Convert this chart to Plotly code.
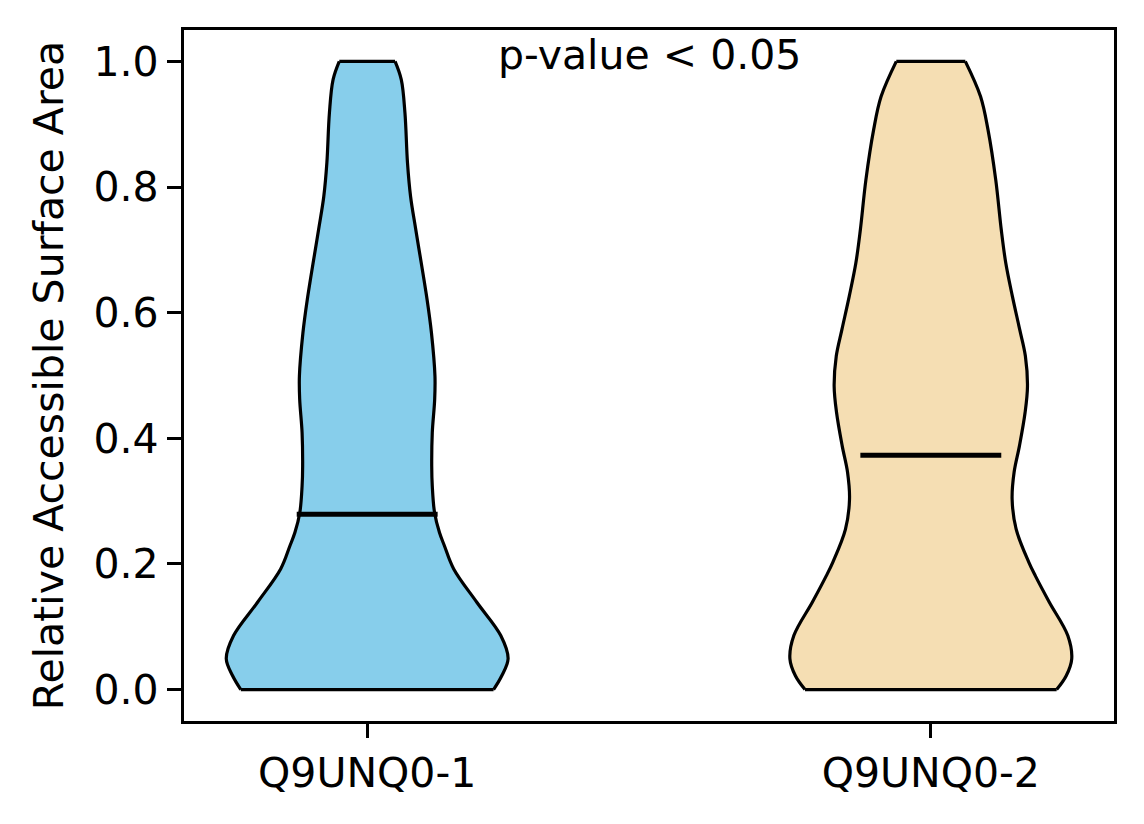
# Importing libraries
import plotly.graph_objects as go

# Violin categories and colours
labels: list[str] = ["Q9UNQ0-1", "Q9UNQ0-2"]
positions: list[int] = [1, 2]
colors: list[str] = ["#87CEEB", "#F5DEB3"]

# Density profile of each violin (y level -> relative density, max = 1)
rsa_levels_1: list[float] = [0.0, 0.022, 0.049, 0.086, 0.139, 0.192, 0.229, 0.250, 0.282,
                             0.324, 0.356, 0.409, 0.462, 0.499, 0.568, 0.621, 0.732, 0.785,
                             0.839, 0.918, 0.971, 1.0]
density_1: list[float] = [0.897, 0.955, 1.0, 0.948, 0.778, 0.614, 0.548, 0.513, 0.478,
                          0.462, 0.458, 0.462, 0.479, 0.481, 0.456, 0.425, 0.345, 0.308,
                          0.286, 0.268, 0.242, 0.198]

rsa_levels_2: list[float] = [0.0, 0.022, 0.049, 0.086, 0.139, 0.181, 0.203, 0.255, 0.303,
                             0.346, 0.388, 0.441, 0.483, 0.531, 0.573, 0.626, 0.679, 0.732,
                             0.811, 0.891, 0.944, 1.0]
density_2: list[float] = [0.893, 0.961, 1.0, 0.972, 0.841, 0.742, 0.695, 0.606, 0.577,
                          0.591, 0.629, 0.669, 0.686, 0.671, 0.631, 0.579, 0.532, 0.500,
                          0.461, 0.406, 0.353, 0.245]

# Medians
medians: list[float] = [0.279, 0.373]

half_width: float = 0.25
edge_width: float = 3.2
font = dict(family="DejaVu Sans", size=41, color="black")

fig: go.Figure = go.Figure()

profiles = [(rsa_levels_1, density_1), (rsa_levels_2, density_2)]
for pos, color, (levels, dens), med in zip(positions, colors, profiles, medians):
    left = [pos - half_width * d for d in dens]
    right = [pos + half_width * d for d in dens]

    # Left edge of the violin
    fig.add_trace(
        go.Scatter(
            x=left, y=levels, mode="lines",
            line=dict(color="black", width=edge_width, shape="spline", smoothing=1.0),
            showlegend=False, hoverinfo="skip",
        )
    )
    # Right edge, filled back to the left edge
    fig.add_trace(
        go.Scatter(
            x=right, y=levels, mode="lines", fill="tonextx", fillcolor=color,
            line=dict(color="black", width=edge_width, shape="spline", smoothing=1.0),
            showlegend=False, hoverinfo="skip",
        )
    )
    # Flat bottom and top caps
    fig.add_trace(
        go.Scatter(
            x=[left[0], right[0], None, left[-1], right[-1]],
            y=[levels[0], levels[0], None, levels[-1], levels[-1]],
            mode="lines", line=dict(color="black", width=edge_width),
            showlegend=False, hoverinfo="skip",
        )
    )
    # Median line
    fig.add_trace(
        go.Scatter(
            x=[pos - half_width / 2, pos + half_width / 2], y=[med, med],
            mode="lines", line=dict(color="black", width=5),
            showlegend=False, hoverinfo="skip",
        )
    )

fig.add_annotation(
    x=1.5, y=1.0, xref="x", yref="y", text="p-value < 0.05",
    showarrow=False, font=font, xanchor="center", yanchor="middle", yshift=6,
)

axis_style = dict(
    showline=True, linecolor="black", linewidth=3.2, mirror=True,
    ticks="outside", ticklen=14, tickwidth=3.2, tickcolor="black",
    showgrid=False, zeroline=False, tickfont=font,
)

fig.update_layout(
    width=1144,
    height=824,
    margin=dict(l=184, r=30, t=30, b=103),
    plot_bgcolor="white",
    paper_bgcolor="white",
    font=font,
    xaxis=dict(
        range=[0.675, 2.325], tickmode="array", tickvals=positions, ticktext=labels,
        **axis_style,
    ),
    yaxis=dict(
        range=[-0.05, 1.05], tickmode="array", tickvals=[0, 0.2, 0.4, 0.6, 0.8, 1.0],
        tickformat=".1f", title=dict(text="Relative Accessible Surface Area", font=font, standoff=18),
        **axis_style,
    ),
)

fig.write_html(
    "out.html",
    config={"displayModeBar": False},
    post_script="document.body.style.margin='0';",
)
